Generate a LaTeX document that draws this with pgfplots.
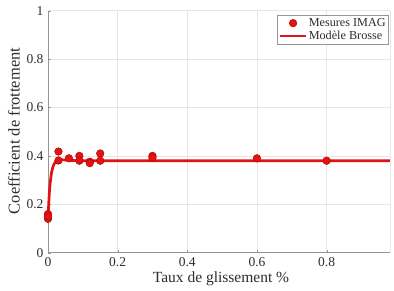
\documentclass[border=0pt]{standalone}
\usepackage{fontspec}
\setmainfont{Liberation Serif}
\usepackage{pgfplots}
\pgfplotsset{compat=1.18}
\definecolor{lred}{RGB}{228,18,18}
\definecolor{dred}{RGB}{170,10,10}
\definecolor{gridc}{RGB}{230,230,230}
\definecolor{axc}{RGB}{150,150,150}
\definecolor{txt}{RGB}{45,45,45}
\pgfplotsset{
  legline/.style={legend image code/.code={\draw[##1] (0cm,0cm) -- (0.9cm,0cm);}},
  legmark/.style={legend image code/.code={\draw[##1] plot coordinates {(0.45cm,0cm)};}},
}
\begin{document}
\begin{tikzpicture}
\begin{axis}[
  scale only axis,
  width=342pt, height=242pt,
  xmin=0, xmax=0.982, ymin=0, ymax=1,
  axis x line*=bottom, axis y line*=left,
  axis line style={axc, line width=0.8pt, -},
  xtick={0,0.2,0.4,0.6,0.8},
  ytick={0,0.2,0.4,0.6,0.8,1},
  xticklabels={0,0.2,0.4,0.6,0.8},
  yticklabels={0,0.2,0.4,0.6,0.8,1},
  tick align=inside,
  major tick length=3pt,
  tick style={axc},
  grid=major,
  major grid style={gridc, line width=0.6pt},
  ticklabel style={font=\fontsize{13.5}{14}\selectfont, text=txt},
  yticklabel style={xshift=-1pt},
  xticklabel style={yshift=-1pt},
  /pgf/number format/assume math mode=true,
  xlabel={Taux de glissement \%},
  ylabel={Coefficient de frottement},
  every axis x label/.style={at={(axis description cs:0.5058,-0.125)}, anchor=base,
    font=\fontsize{15.5}{16}\selectfont, text=txt},
  every axis y label/.style={at={(axis description cs:-0.0995,0.503)}, rotate=90, anchor=center,
    font=\fontsize{16.5}{17}\selectfont, text=txt},
  legend style={at={(axis description cs:0.997,0.982)}, anchor=north east,
    draw=axc, line width=0.6pt, font=\fontsize{12.2}{13}\selectfont, text=txt,
    inner sep=1.5pt, row sep=0pt, nodes={inner sep=1.5pt}},
  legend cell align=left,
  clip=false,
]
\draw[gridc, line width=0.6pt] (rel axis cs:1,0) -- (rel axis cs:1,1);
\addplot[only marks, mark=*, mark size=3.8pt, mark options={fill=lred, draw=dred, line width=0.5pt}, legmark]
coordinates {
(0,0.16) (0,0.14) (0,0.15)
(0.03,0.418) (0.03,0.381)
(0.06,0.39)
(0.09,0.40) (0.09,0.38)
(0.12,0.376) (0.12,0.37)
(0.15,0.41) (0.15,0.38)
(0.3,0.40) (0.3,0.392)
(0.6,0.39)
(0.8,0.38)
};
\addlegendentry{Mesures IMAG}
\addplot[lred, line width=2.7pt, smooth, tension=0.4, legline] coordinates {
(0,0.14) (0.002,0.2) (0.005,0.27) (0.01,0.33) (0.015,0.358) (0.02,0.372) (0.03,0.383) (0.04,0.384) (0.06,0.382) (0.1,0.38) (0.3,0.38) (0.982,0.38)
};
\addlegendentry{Modèle Brosse}
\end{axis}
\pgfresetboundingbox
\path (current axis.south west) ++(-48pt,-38.3pt);
\path (current axis.north east) ++(4pt,10.7pt);
\end{tikzpicture}
\end{document}
